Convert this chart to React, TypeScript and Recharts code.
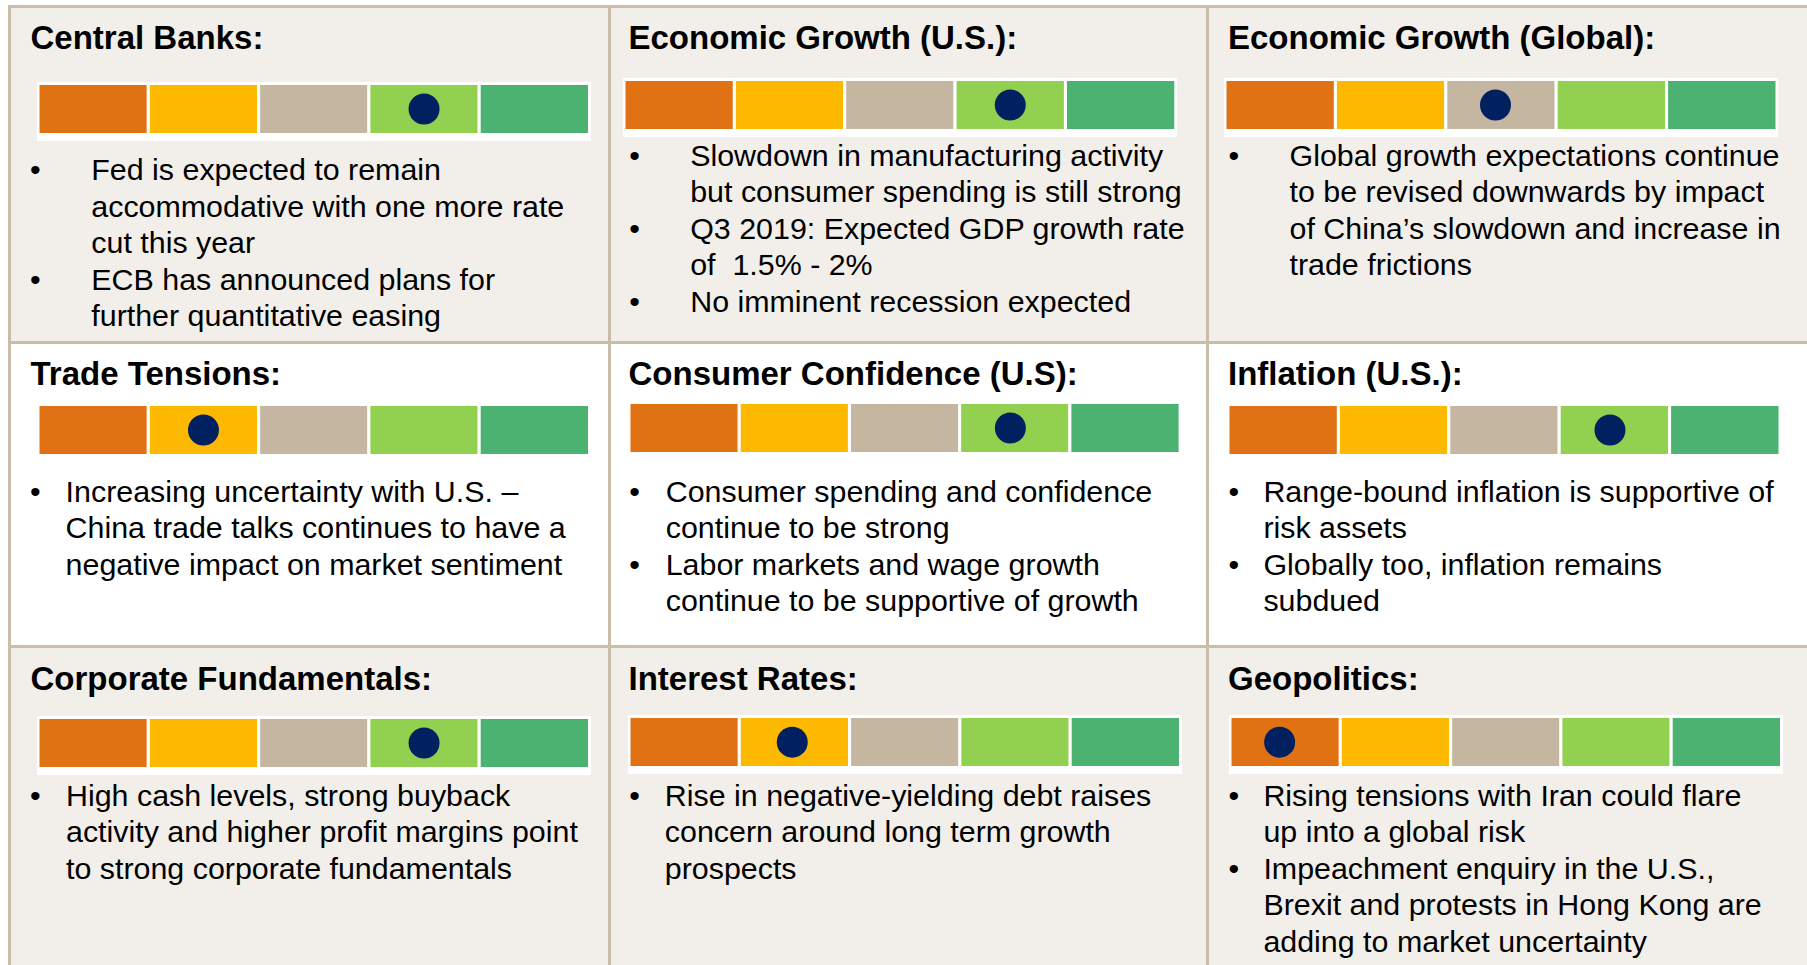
import React from 'react';
import { Bar, ComposedChart, ReferenceDot, XAxis, YAxis } from 'recharts';

const FONT = 'Arial, "Liberation Sans", Helvetica, sans-serif';

// five-step gauge, from most negative to most positive
const SEGMENT_KEYS = ['s1', 's2', 's3', 's4', 's5'];
const SEGMENT_SIZES = [1, 1, 1, 1, 1];
const SEGMENT_COLORS = ['#E07214', '#FDB900', '#C5B6A1', '#92D050', '#4BB272'];
const DOT_COLOR = '#002060';

const PANEL_TITLES = [
  'Central Banks:',
  'Economic Growth (U.S.):',
  'Economic Growth (Global):',
  'Trade Tensions:',
  'Consumer Confidence (U.S):',
  'Inflation (U.S.):',
  'Corporate Fundamentals:',
  'Interest Rates:',
  'Geopolitics:',
];

// dot position on the 0..5 gauge scale
const GAUGE_VALUES = [3.5, 3.5, 2.45, 1.5, 3.46, 3.46, 3.5, 1.48, 0.45];

const PANEL_BULLETS: string[][][] = [
  [
    ['Fed is expected to remain', 'accommodative with one more rate', 'cut this year'],
    ['ECB has announced plans for', 'further quantitative easing'],
  ],
  [
    ['Slowdown in manufacturing activity', 'but consumer spending is still strong'],
    ['Q3 2019: Expected GDP growth rate', 'of  1.5% - 2%'],
    ['No imminent recession expected'],
  ],
  [
    [
      'Global growth expectations continue',
      'to be revised downwards by impact',
      'of China\u2019s slowdown and increase in',
      'trade frictions',
    ],
  ],
  [['Increasing uncertainty with U.S. \u2013', 'China trade talks continues to have a', 'negative impact on market sentiment']],
  [
    ['Consumer spending and confidence', 'continue to be strong'],
    ['Labor markets and wage growth', 'continue to be supportive of growth'],
  ],
  [
    ['Range-bound inflation is supportive of', 'risk assets'],
    ['Globally too, inflation remains', 'subdued'],
  ],
  [['High cash levels, strong buyback', 'activity and higher profit margins point', 'to strong corporate fundamentals']],
  [['Rise in negative-yielding debt raises', 'concern around long term growth', 'prospects']],
  [
    ['Rising tensions with Iran could flare', 'up into a global risk'],
    ['Impeachment enquiry in the U.S.,', 'Brexit and protests in Hong Kong are', 'adding to market uncertainty'],
  ],
];

// ---- layout (pixels) ----
const COL_LEFT = [9.9, 609, 1207];
const ROW_TOP = [6, 342.7, 646.7];
const ROW_BG = ['#F2EFEA', '#FFFFFF', '#F2EFEA'];
const BORDER = '#C9BCA9';

const TITLE_X = [30.5, 628.5, 1228];
const TITLE_BASE = [49.3, 385, 690];
const BULLET_X = [30, 629.2, 1228.6];
const TEXT_X = [91.3, 690.2, 1289.5, 65.6, 665.7, 1263.4, 66, 664.8, 1263.4];
const TEXT_BASE = [180, 165.7, 165.7, 501.7, 501.7, 501.7, 805.7, 805.7, 805.7];
const LINE_H = 36.5;

// coloured strip: left, top, right, bottom
const GAUGE_RECTS = [
  [39.5, 85, 588, 133],
  [625.7, 81, 1174.5, 129],
  [1226, 81, 1775, 129],
  [39.5, 406, 588, 454],
  [630.4, 404, 1178.5, 452],
  [1229.8, 406, 1778.8, 454],
  [39.5, 719, 588, 767],
  [630, 717.7, 1178.5, 766],
  [1231, 717.7, 1779.5, 766],
];

const gaugeRow: Record<string, string | number> = { name: 'gauge' };
SEGMENT_KEYS.forEach((k, i) => {
  gaugeRow[k] = SEGMENT_SIZES[i];
});

function Gauge({ index }: { index: number }) {
  const [l, t, r, b] = GAUGE_RECTS[index];
  const width = r - l + 5.5;
  const height = b - t + 11;
  return (
    <div
      style={{
        position: 'absolute',
        left: l - 2.5,
        top: t - 3,
        width,
        height,
        background: '#FFFFFF',
      }}
    >
      <ComposedChart
        width={width}
        height={height}
        layout="vertical"
        data={[gaugeRow]}
        margin={{ top: 1.5, right: 1.5, bottom: 6.5, left: 1 }}
        barCategoryGap={0}
        barGap={0}
      >
        <XAxis type="number" domain={[0, SEGMENT_SIZES.reduce((a, v) => a + v, 0)]} hide />
        <YAxis type="category" dataKey="name" hide />
        {SEGMENT_KEYS.map((k, i) => (
          <Bar
            key={k}
            dataKey={k}
            stackId="gauge"
            fill={SEGMENT_COLORS[i]}
            stroke="#FFFFFF"
            strokeWidth={3}
            isAnimationActive={false}
          />
        ))}
        <ReferenceDot x={GAUGE_VALUES[index]} y="gauge" r={15.5} fill={DOT_COLOR} stroke="none" />
      </ComposedChart>
    </div>
  );
}

function Panel({ index }: { index: number }) {
  const col = index % 3;
  const row = Math.floor(index / 3);
  const bullets = PANEL_BULLETS[index];
  let lineNo = 0;
  return (
    <>
      <div
        style={{
          position: 'absolute',
          left: TITLE_X[col],
          top: TITLE_BASE[row] - 31.4,
          fontFamily: FONT,
          fontWeight: 700,
          fontSize: 33,
          lineHeight: '40px',
          color: '#000',
          whiteSpace: 'pre',
        }}
      >
        {PANEL_TITLES[index]}
      </div>
      <Gauge index={index} />
      {bullets.map((lines, bi) => {
        const top = TEXT_BASE[index] - 28.8 + lineNo * LINE_H;
        lineNo += lines.length;
        return (
          <React.Fragment key={bi}>
            <div
              style={{
                position: 'absolute',
                left: BULLET_X[col],
                top,
                fontFamily: FONT,
                fontSize: 30.4,
                lineHeight: `${LINE_H}px`,
                color: '#000',
              }}
            >
              {'\u2022'}
            </div>
            <div
              style={{
                position: 'absolute',
                left: TEXT_X[index],
                top,
                fontFamily: FONT,
                fontSize: 30.4,
                lineHeight: `${LINE_H}px`,
                color: '#000',
                whiteSpace: 'pre',
              }}
            >
              {lines.map((ln, li) => (
                <div key={li}>{ln}</div>
              ))}
            </div>
          </React.Fragment>
        );
      })}
    </>
  );
}

export default function App() {
  return (
    <div
      style={{
        position: 'absolute',
        left: 0,
        top: 0,
        width: 1807,
        height: 965,
        overflow: 'hidden',
        background: '#FFFFFF',
      }}
    >
      {ROW_TOP.map((top, ri) => (
        <div
          key={`bg${ri}`}
          style={{
            position: 'absolute',
            left: COL_LEFT[0],
            top,
            width: 1807 - COL_LEFT[0],
            height: (ROW_TOP[ri + 1] ?? 965) - top,
            background: ROW_BG[ri],
          }}
        />
      ))}
      {ROW_TOP.map((top, ri) => (
        <div
          key={`h${ri}`}
          style={{
            position: 'absolute',
            left: COL_LEFT[0] - 1.5,
            top: top - 1.5,
            width: 1807,
            height: 3,
            background: BORDER,
          }}
        />
      ))}
      {COL_LEFT.map((left, ci) => (
        <div
          key={`v${ci}`}
          style={{
            position: 'absolute',
            left: left - 1.5,
            top: ROW_TOP[0] - 1.5,
            width: 3,
            height: 965,
            background: BORDER,
          }}
        />
      ))}
      {PANEL_TITLES.map((_, i) => (
        <Panel key={i} index={i} />
      ))}
    </div>
  );
}
